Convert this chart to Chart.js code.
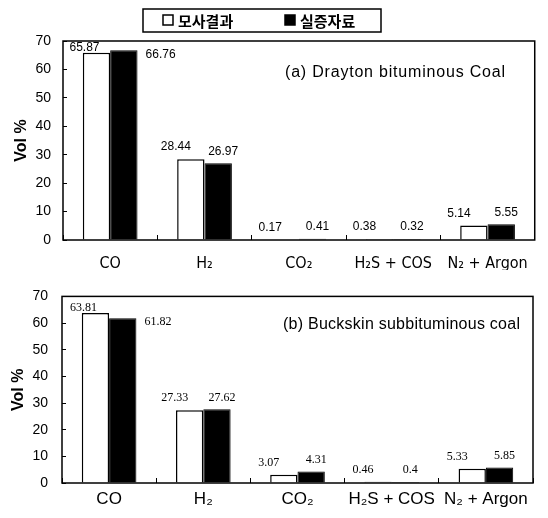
<!DOCTYPE html>
<html>
<head>
<meta charset="utf-8">
<script src="https://cdn.jsdelivr.net/npm/chart.js@4.4.0/dist/chart.umd.min.js"></script>
<style>
  body { margin: 0; background: #fff; }
  .wrap { position: absolute; left: 0; width: 548px; }
  #top { top: 0; height: 270px; }
  #bottom { top: 270px; height: 248px; }
</style>
</head>
<body>
<div class="wrap" id="top"><canvas id="chartA"></canvas></div>
<div class="wrap" id="bottom"><canvas id="chartB"></canvas></div>
<script>
// 데이터
const categories = ['CO', 'H₂', 'CO₂', 'H₂S + COS', 'N₂ + Argon'];
const seriesNames = ['모사결과', '실증자료'];
const draytonSim = [65.87, 28.44, 0.17, 0.38, 5.14];
const draytonExp = [66.76, 26.97, 0.41, 0.32, 5.55];
const buckskinSim = [63.81, 27.33, 3.07, 0.46, 5.33];
const buckskinExp = [61.82, 27.62, 4.31, 0.4, 5.85];
const yTicks = [0, 10, 20, 30, 40, 50, 60, 70];

Chart.defaults.color = '#000';
Chart.defaults.font.family = '"Liberation Sans", Arial, sans-serif';

// plot area frame
const frame = {
  id: 'frame',
  afterDraw(chart) {
    const { ctx, chartArea: a } = chart;
    ctx.save();
    ctx.strokeStyle = '#000';
    ctx.lineWidth = 1.5;
    ctx.strokeRect(a.left, a.top, a.right - a.left, a.bottom - a.top);
    ctx.restore();
  }
};

// value labels above bars
const valueLabels = {
  id: 'valueLabels',
  afterDatasetsDraw(chart, args, opts) {
    const { ctx, chartArea: a } = chart;
    ctx.save();
    ctx.font = opts.font;
    ctx.fillStyle = '#000';
    ctx.textBaseline = 'middle';
    chart.data.datasets.forEach((ds, i) => {
      chart.getDatasetMeta(i).data.forEach((bar, j) => {
        const txt = String(ds.data[j]);
        const tall = bar.y - a.top < 25;
        if (tall && i === 1) {
          // no room above: put it beside the bar
          ctx.textAlign = 'left';
          ctx.fillText(txt, bar.x + bar.width / 2 + 8, bar.y + 4);
        } else if (tall) {
          ctx.textAlign = 'center';
          ctx.fillText(txt, bar.x - 12, bar.y - 5);
        } else {
          ctx.textAlign = 'center';
          ctx.fillText(txt, bar.x + (i === 0 ? -15 : 5), bar.y - 12);
        }
      });
    });
    ctx.restore();
  }
};

// caption inside the plot
const caption = {
  id: 'caption',
  afterDraw(chart, args, opts) {
    const { ctx, chartArea: a } = chart;
    ctx.save();
    ctx.font = '16px "Liberation Sans", Arial, sans-serif';
    ctx.letterSpacing = opts.spacing;
    ctx.fillStyle = '#000';
    ctx.textBaseline = 'middle';
    ctx.fillText(opts.text, a.left + opts.dx, a.top + opts.dy);
    ctx.restore();
  }
};

// boxed legend at the top
const boxLegend = {
  id: 'boxLegend',
  afterDraw(chart, args, opts) {
    if (!opts.show) return;
    const ctx = chart.ctx;
    ctx.save();
    ctx.lineWidth = 1.5;
    ctx.strokeStyle = '#000';
    ctx.strokeRect(143, 9, 238, 23);
    ctx.font = 'bold 15px "Noto Sans CJK KR", sans-serif';
    ctx.textBaseline = 'middle';
    let x = 163;
    chart.data.datasets.forEach(ds => {
      ctx.fillStyle = ds.backgroundColor;
      ctx.fillRect(x, 15, 10, 10);
      ctx.strokeRect(x, 15, 10, 10);
      ctx.fillStyle = '#000';
      ctx.fillText(ds.label, x + 15, 21);
      x += 122;
    });
    ctx.restore();
  }
};

function makeChart(id, sim, exp, o) {
  return new Chart(document.getElementById(id), {
    type: 'bar',
    data: {
      labels: categories,
      datasets: [{
        label: seriesNames[0],
        data: sim,
        backgroundColor: '#fff',
        borderColor: '#000',
        borderWidth: 1.5,
        borderSkipped: 'bottom'
      }, {
        label: seriesNames[1],
        data: exp,
        backgroundColor: '#000',
        borderColor: '#000',
        borderWidth: 1,
        borderSkipped: 'bottom'
      }]
    },
    options: {
      responsive: true,
      maintainAspectRatio: false,
      animation: false,
      layout: { padding: o.padding },
      datasets: { bar: { categoryPercentage: 0.58, barPercentage: 1.0 } },
      scales: {
        x: {
          grid: { drawOnChartArea: false, tickLength: -5, color: '#000', lineWidth: 1 },
          border: { display: false },
          ticks: { font: o.xFont, padding: o.xPad, color: '#000' },
          afterFit: s => { s.height = o.xHeight; }
        },
        y: {
          min: 0,
          max: 70,
          grid: { drawOnChartArea: false, tickLength: -4, color: '#000', lineWidth: 1 },
          border: { display: false },
          afterBuildTicks: s => { s.ticks = yTicks.map(v => ({ value: v })); },
          ticks: { font: { size: 14 }, padding: o.yPad, color: '#000' },
          title: {
            display: true,
            text: 'Vol %',
            font: { size: 16, weight: 'bold' },
            padding: { top: o.titlePad, bottom: 0 }
          },
          afterFit: s => { s.width = o.yWidth; }
        }
      },
      plugins: {
        legend: { display: false },
        tooltip: { enabled: false },
        valueLabels: { font: o.labelFont },
        caption: { text: o.caption, dx: o.capDx, dy: o.capDy, spacing: o.capSpacing },
        boxLegend: { show: o.legend }
      }
    },
    plugins: [frame, valueLabels, caption, boxLegend]
  });
}

makeChart('chartA', draytonSim, draytonExp, {
  padding: { top: 41, right: 13, left: 0, bottom: 0 },
  xHeight: 30, yWidth: 63, xPad: 19, yPad: 16, titlePad: 12,
  xFont: { size: 16, family: '"Liberation Sans Narrow", "DejaVu Sans Condensed", "Liberation Serif", serif' },
  labelFont: '12px "Liberation Sans", Arial, sans-serif',
  caption: '(a) Drayton bituminous Coal', capDx: 222, capDy: 32, capSpacing: '0.8px',
  legend: true
});

makeChart('chartB', buckskinSim, buckskinExp, {
  padding: { top: 18, right: 15, left: 0, bottom: 0 },
  xHeight: 35, yWidth: 62, xPad: 11, yPad: 18, titlePad: 9,
  xFont: { size: 17 },
  labelFont: '12px "Liberation Serif", serif',
  caption: '(b) Buckskin subbituminous coal', capDx: 221, capDy: 28, capSpacing: '0.25px',
  legend: false
});
</script>
</body>
</html>
